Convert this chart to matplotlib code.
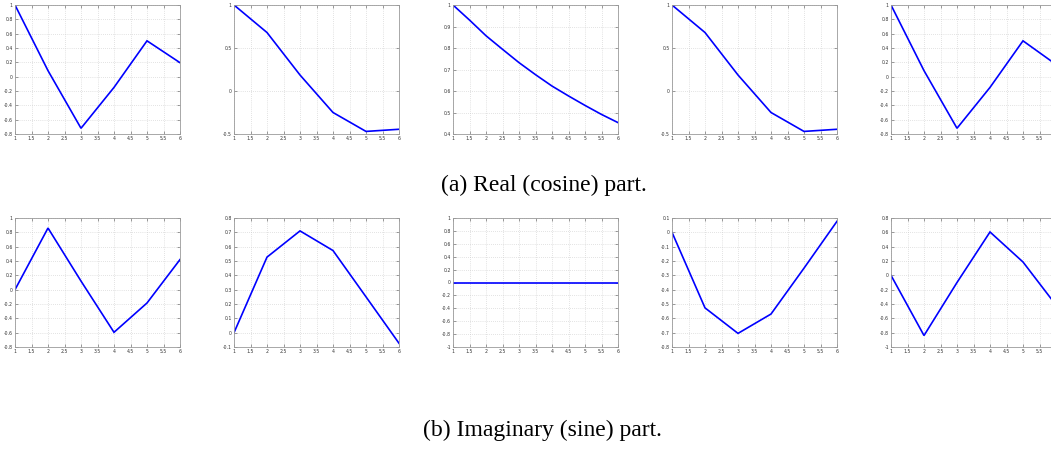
import matplotlib
matplotlib.use("Agg")
import matplotlib.pyplot as plt
from matplotlib.ticker import FuncFormatter

# ---- data ----
x = [1, 2, 3, 4, 5, 6]
x_fine = [1, 1.5, 2, 2.5, 3, 3.5, 4, 4.5, 5, 5.5, 6]

real_1 = [1.0, 0.084, -0.72, -0.15, 0.50, 0.195]
real_2 = [1.0, 0.68, 0.186, -0.25, -0.47, -0.445]
real_3 = [1.0, 0.93, 0.857, 0.794, 0.732, 0.676, 0.623, 0.577, 0.533, 0.491, 0.453]
real_4 = [1.0, 0.68, 0.186, -0.25, -0.47, -0.445]
real_5 = [1.0, 0.084, -0.72, -0.15, 0.50, 0.17]

imag_1 = [0.0, 0.86, 0.12, -0.595, -0.186, 0.42]
imag_2 = [0.0, 0.527, 0.71, 0.573, 0.25, -0.074]
imag_3 = [0.0, 0.0, 0.0, 0.0, 0.0, 0.0]
imag_4 = [0.0, -0.527, -0.705, -0.57, -0.25, 0.077]
imag_5 = [0.0, -0.84, -0.10, 0.605, 0.186, -0.415]

x_ticks = [1, 1.5, 2, 2.5, 3, 3.5, 4, 4.5, 5, 5.5, 6]

real_yticks = [
    [-0.8, -0.6, -0.4, -0.2, 0, 0.2, 0.4, 0.6, 0.8, 1],
    [-0.5, 0, 0.5, 1],
    [0.4, 0.5, 0.6, 0.7, 0.8, 0.9, 1],
    [-0.5, 0, 0.5, 1],
    [-0.8, -0.6, -0.4, -0.2, 0, 0.2, 0.4, 0.6, 0.8, 1],
]
imag_yticks = [
    [-0.8, -0.6, -0.4, -0.2, 0, 0.2, 0.4, 0.6, 0.8, 1],
    [-0.1, 0, 0.1, 0.2, 0.3, 0.4, 0.5, 0.6, 0.7, 0.8],
    [-1, -0.8, -0.6, -0.4, -0.2, 0, 0.2, 0.4, 0.6, 0.8, 1],
    [-0.8, -0.7, -0.6, -0.5, -0.4, -0.3, -0.2, -0.1, 0, 0.1],
    [-1, -0.8, -0.6, -0.4, -0.2, 0, 0.2, 0.4, 0.6, 0.8],
]

caption_a = "(a) Real (cosine) part."
caption_b = "(b) Imaginary (sine) part."

# ---- figure ----
W, H = 1051, 455
fig = plt.figure(figsize=(W / 100, H / 100), dpi=100)
fig.patch.set_facecolor("white")

lefts_px = [15, 234, 453, 672, 891]
width_px = 165
rows = [(5, 134), (218, 347)]

real_series = [(x, real_1), (x, real_2), (x_fine, real_3), (x, real_4), (x, real_5)]
imag_series = [(x, imag_1), (x, imag_2), (x, imag_3), (x, imag_4), (x, imag_5)]

fmt = FuncFormatter(lambda v, p: ("%g" % round(v, 4)) if abs(v) > 1e-9 else "0")


def draw(ax, xs, ys, yt, last):
    ax.plot(xs, ys, color=(0, 0, 1), lw=1.2, solid_joinstyle="miter")
    ax.set_xlim(1, 6)
    ax.set_ylim(yt[0], yt[-1])
    ax.set_xticks(x_ticks)
    ax.set_yticks(yt)
    if last:
        # the rightmost panel runs past the image edge; its "6" label is not visible
        ax.set_xticklabels([("%g" % t) if t < 6 else "" for t in x_ticks])
    else:
        ax.xaxis.set_major_formatter(fmt)
    ax.yaxis.set_major_formatter(fmt)
    ax.tick_params(axis="both", labelsize=3.3, labelcolor="#333333", direction="in",
                   length=2, width=0.4, color="#555555", pad=1.5, top=True, right=True)
    ax.grid(True, color="#c8c8c8", linestyle=(0, (1, 2)), linewidth=0.5)
    for s in ax.spines.values():
        s.set_color("#9a9a9a")
        s.set_linewidth(0.6)


for r, (series, yts) in enumerate([(real_series, real_yticks), (imag_series, imag_yticks)]):
    top_px, bot_px = rows[r]
    for i in range(5):
        ax = fig.add_axes([lefts_px[i] / W, 1 - bot_px / H, width_px / W, (bot_px - top_px) / H])
        draw(ax, series[i][0], series[i][1], yts[i], i == 4)

fig.text(544 / W, 1 - 185 / H, caption_a, ha="center", va="center",
         fontsize=17, family="Liberation Serif")
fig.text(542 / W, 1 - 430 / H, caption_b, ha="center", va="center",
         fontsize=17, family="Liberation Serif")

fig.savefig("out.png", dpi=100, facecolor="white")
